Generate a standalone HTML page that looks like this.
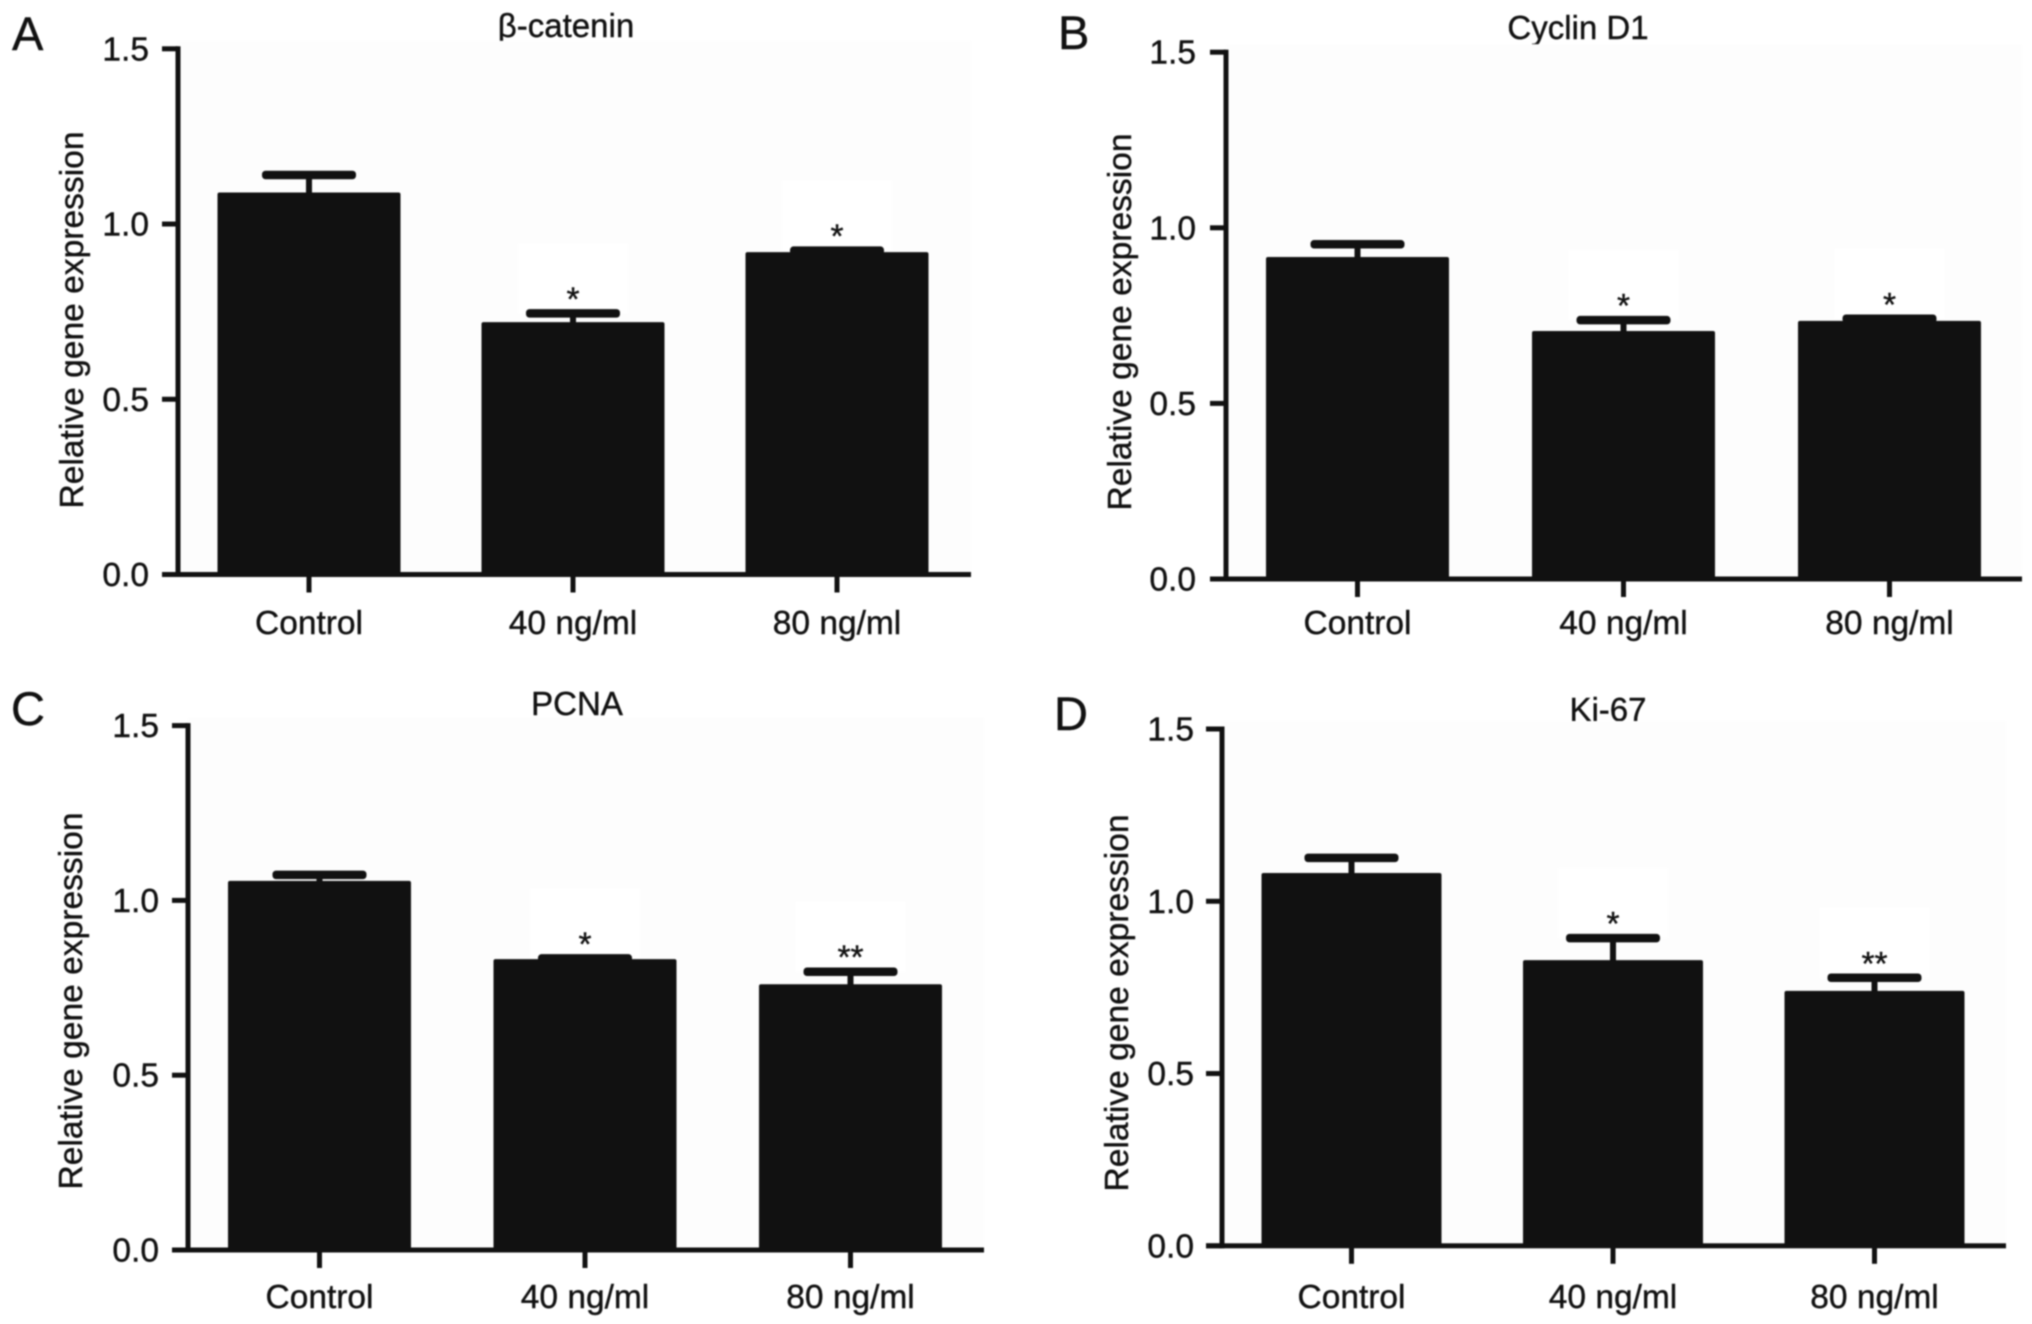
<!DOCTYPE html>
<html lang="en">
<head>
<meta charset="utf-8">
<title>Relative gene expression panels</title>
<style>
  html, body { margin: 0; padding: 0; background: #ffffff; }
  svg { display: block; filter: blur(0.8px); }
  text { font-family: "Liberation Sans", sans-serif; fill: #111111; stroke: #111111; stroke-width: 0.4px; font-size: 33.5px; }
  .panel-letter { font-size: 47px; }
  .title { text-anchor: middle; font-size: 33px; }
  .y-title { text-anchor: middle; font-size: 33.6px; }
</style>
</head>
<body>
<svg id="figure" xmlns="http://www.w3.org/2000/svg" width="2032" height="1324" viewBox="0 0 2032 1324">
  <rect x="0" y="0" width="2032" height="1324" fill="#ffffff"/>

  <g id="panel-a">
    <text class="panel-letter" x="12" y="50">A</text>
    <text class="title" x="566" y="37">β-catenin</text>
    <text class="y-title" transform="translate(83 320) rotate(-90)">Relative gene expression</text>
  </g>
  <g id="panel-b">
    <text class="panel-letter" x="1058" y="49">B</text>
    <text class="title" x="1578" y="39">Cyclin D1</text>
    <text class="y-title" transform="translate(1131 322) rotate(-90)">Relative gene expression</text>
  </g>
  <g id="panel-c">
    <text class="panel-letter" x="11" y="725">C</text>
    <text class="title" x="577" y="715">PCNA</text>
    <text class="y-title" transform="translate(82 1001) rotate(-90)">Relative gene expression</text>
  </g>
  <g id="panel-d">
    <text class="panel-letter" x="1054" y="730">D</text>
    <text class="title" x="1608" y="721">Ki-67</text>
    <text class="y-title" transform="translate(1128 1003) rotate(-90)">Relative gene expression</text>
  </g>
</svg>

<script>
// Shared axis data
const categories = ['Control', '40 ng/ml', '80 ng/ml'];
const yTickValues = [0, 0.5, 1, 1.5];
const yTickLabels = ['0.0', '0.5', '1.0', '1.5'];
const yMax = 1.5;

// Series values (bar height) and upper error bar value
const betaCateninValues = [1.09, 0.72, 0.92];
const betaCateninUpper = [1.14, 0.745, 0.924];
const betaCateninStars = ['', '*', '*'];

const cyclinD1Values = [0.917, 0.706, 0.735];
const cyclinD1Upper = [0.953, 0.737, 0.741];
const cyclinD1Stars = ['', '*', '*'];

const pcnaValues = [1.056, 0.832, 0.76];
const pcnaUpper = [1.073, 0.834, 0.796];
const pcnaStars = ['', '*', '**'];

const ki67Values = [1.082, 0.829, 0.74];
const ki67Upper = [1.126, 0.893, 0.778];
const ki67Stars = ['', '*', '**'];

// Plot frames
const frameA = { axisX: 178, top: 48.8, zero: 574.5, right: 971, first: 309, step: 264, barW: 183, labelBase: 634, tickRight: 149 };
const frameB = { axisX: 1226, top: 52.2, zero: 579, right: 2022, first: 1357.5, step: 266, barW: 183, labelBase: 634, tickRight: 1196 };
const frameC = { axisX: 188, top: 725.6, zero: 1250, right: 984, first: 319.5, step: 265.5, barW: 183, labelBase: 1308, tickRight: 159 };
const frameD = { axisX: 1222, top: 729, zero: 1245.8, right: 2006, first: 1351.5, step: 261.5, barW: 180, labelBase: 1308, tickRight: 1194 };

const SVG_NS = 'http://www.w3.org/2000/svg';
const INK = '#111111';

function make(tag, parent, attrs) {
  const el = document.createElementNS(SVG_NS, tag);
  for (const key in attrs) el.setAttribute(key, attrs[key]);
  parent.appendChild(el);
  return el;
}

function drawPanel(panelId, frame, values, upper, stars) {
  const root = document.getElementById(panelId);
  const yScale = function (v) { return frame.zero - (v / yMax) * (frame.zero - frame.top); };
  const xScale = function (i) { return frame.first + i * frame.step; };

  const plotBg = make('rect', root, { x: frame.axisX, y: frame.top - 8, width: frame.right - frame.axisX, height: frame.zero - frame.top + 8, fill: '#fdfdfd' });
  
  

  values.forEach(function (v, i) {
    const cx = xScale(i);
    const capY = yScale(upper[i]);

    if (stars[i]) {
      const halo = make('rect', root, { x: cx - 55, y: capY - 70, width: 110, height: 70, fill: '#ffffff' });
      
      
    }

    const stem = make('rect', root, { x: cx - 3, y: capY, width: 6, height: yScale(v) - capY + 2, fill: INK });
    
    

    const cap = make('rect', root, { x: cx - 47, y: capY - 4.25, width: 94, height: 8.5, rx: 3.5, fill: INK });
    
    

    const bar = make('rect', root, { x: cx - frame.barW / 2, y: yScale(v), width: frame.barW, height: frame.zero - yScale(v), rx: 2, fill: INK });
    
    

    if (stars[i]) {
      const star = make('text', root, { x: cx, y: capY - 3, 'text-anchor': 'middle' });
      star.textContent = stars[i];
      
      
    }

    const xTick = make('rect', root, { x: cx - 2.5, y: frame.zero, width: 5, height: 18, fill: INK });
    
    

    const xLabel = make('text', root, { x: cx, y: frame.labelBase, 'text-anchor': 'middle' });
    xLabel.textContent = categories[i];
    
    
  });

  const yAxis = make('rect', root, { x: frame.axisX - 2.5, y: yScale(yMax) - 2.5, width: 5, height: frame.zero - yScale(yMax) + 5, fill: INK });
  
  

  const xAxis = make('rect', root, { x: frame.axisX - 16, y: frame.zero - 2.5, width: frame.right - frame.axisX + 16, height: 5, fill: INK });
  
  

  yTickValues.forEach(function (t, i) {
    const yTick = make('rect', root, { x: frame.axisX - 16, y: yScale(t) - 2.5, width: 16, height: 5, fill: INK });
    
    

    const yLabel = make('text', root, { x: frame.tickRight, y: yScale(t) + 11.5, 'text-anchor': 'end' });
    yLabel.textContent = yTickLabels[i];
    
    
  });
}

drawPanel('panel-a', frameA, betaCateninValues, betaCateninUpper, betaCateninStars);
drawPanel('panel-b', frameB, cyclinD1Values, cyclinD1Upper, cyclinD1Stars);
drawPanel('panel-c', frameC, pcnaValues, pcnaUpper, pcnaStars);
drawPanel('panel-d', frameD, ki67Values, ki67Upper, ki67Stars);
</script>
</body>
</html>
